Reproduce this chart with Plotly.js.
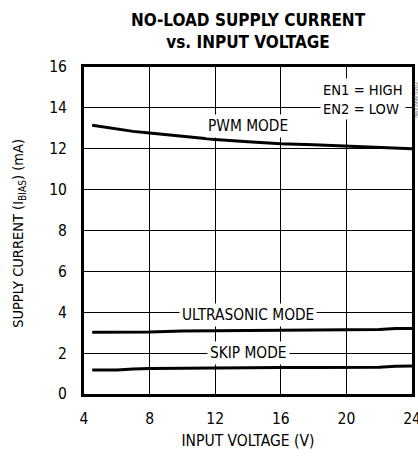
<!DOCTYPE html>
<html>
<head>
<meta charset="utf-8">
<script src="https://cdn.plot.ly/plotly-3.0.1.min.js"></script>
<style>html,body{margin:0;padding:0;background:#fff;}#chart{width:418px;height:458px;}</style>
</head>
<body>
<div id="chart"></div>
<script>
// Input voltage (V)
const inputVoltage = [4.5, 6, 7, 8, 10, 12, 14, 16, 18, 20, 22, 23, 24];
// Supply current (mA)
const pwmMode = [13.15, 12.95, 12.85, 12.77, 12.6, 12.45, 12.34, 12.25, 12.2, 12.13, 12.06, 12.02, 12.0];
const ultrasonicMode = [3.02, 3.02, 3.02, 3.03, 3.08, 3.1, 3.1, 3.12, 3.13, 3.14, 3.15, 3.2, 3.2];
const skipMode = [1.18, 1.18, 1.22, 1.25, 1.26, 1.28, 1.29, 1.3, 1.3, 1.3, 1.31, 1.36, 1.37];
const xTicks = [4, 8, 12, 16, 20, 24];
const yTicks = [0, 2, 4, 6, 8, 10, 12, 14, 16];

const FONT = '"DejaVu Sans Condensed", "Liberation Sans Narrow", sans-serif';
const lineStyle = {color: '#000', width: 3};

const traces = [
  {x: inputVoltage, y: pwmMode, name: 'PWM MODE', mode: 'lines', line: lineStyle},
  {x: inputVoltage, y: ultrasonicMode, name: 'ULTRASONIC MODE', mode: 'lines', line: lineStyle},
  {x: inputVoltage, y: skipMode, name: 'SKIP MODE', mode: 'lines', line: lineStyle}
];

const labelFont = {family: FONT, size: 15.3, color: '#000'};
const layout = {
  width: 418, height: 458,
  margin: {l: 84, r: 6, t: 67, b: 64},
  paper_bgcolor: '#fff', plot_bgcolor: '#fff',
  showlegend: false,
  font: {family: FONT, color: '#000'},
  title: {
    text: '<b>NO-LOAD SUPPLY CURRENT<br>vs. INPUT VOLTAGE</b>',
    font: {family: FONT, size: 17, color: '#000'},
    x: 0.5, xref: 'paper', xanchor: 'center',
    y: 0.943, yref: 'container', yanchor: 'top'
  },
  xaxis: {
    range: [4, 24], tickvals: xTicks, ticktext: xTicks.map(String),
    showgrid: true, gridcolor: '#000', gridwidth: 1, zeroline: false,
    showline: true, mirror: true, linecolor: '#000', linewidth: 3,
    ticks: '', ticklabelstandoff: 8, ticklabeloverflow: 'allow',
    tickfont: {family: FONT, size: 15.5, color: '#000'},
    title: {text: 'INPUT VOLTAGE (V)', font: {family: FONT, size: 15.5, color: '#000'}, standoff: 9}
  },
  yaxis: {
    range: [0, 16], tickvals: yTicks, ticktext: yTicks.map(String),
    showgrid: true, gridcolor: '#000', gridwidth: 1, zeroline: false,
    showline: true, mirror: true, linecolor: '#000', linewidth: 3,
    ticks: '', ticklabelstandoff: 11,
    tickfont: {family: FONT, size: 15.5, color: '#000'}
  },
  annotations: [
    {x: 14, y: 13.1, text: 'PWM MODE', showarrow: false, bgcolor: '#fff', borderpad: 2, font: labelFont},
    {x: 14, y: 3.88, text: 'ULTRASONIC MODE', showarrow: false, bgcolor: '#fff', borderpad: 2, font: labelFont},
    {x: 14, y: 1.99, text: 'SKIP MODE', showarrow: false, bgcolor: '#fff', borderpad: 2, font: labelFont},
    {x: 18.4, y: 14.42, xanchor: 'left', align: 'left', text: 'EN1 = HIGH<br>EN2 = LOW', showarrow: false, bgcolor: '#fff', borderpad: 2,
     font: {family: FONT, size: 14.6, color: '#000'}},
    {xref: 'paper', yref: 'paper', x: -0.198, y: 0.49, xanchor: 'center', yanchor: 'middle', textangle: -90, showarrow: false,
     text: 'SUPPLY CURRENT (I<sub>BIAS</sub>) (mA)', font: {family: FONT, size: 14.5, color: '#000'}},
    {xref: 'paper', yref: 'paper', x: 1.012, y: 0.9, xanchor: 'center', yanchor: 'middle', textangle: -90, showarrow: false,
     text: 'MAX1999 toc02', font: {family: FONT, size: 5, color: '#666'}}
  ]
};

Plotly.newPlot('chart', traces, layout, {staticPlot: true, displayModeBar: false});
</script>
</body>
</html>
